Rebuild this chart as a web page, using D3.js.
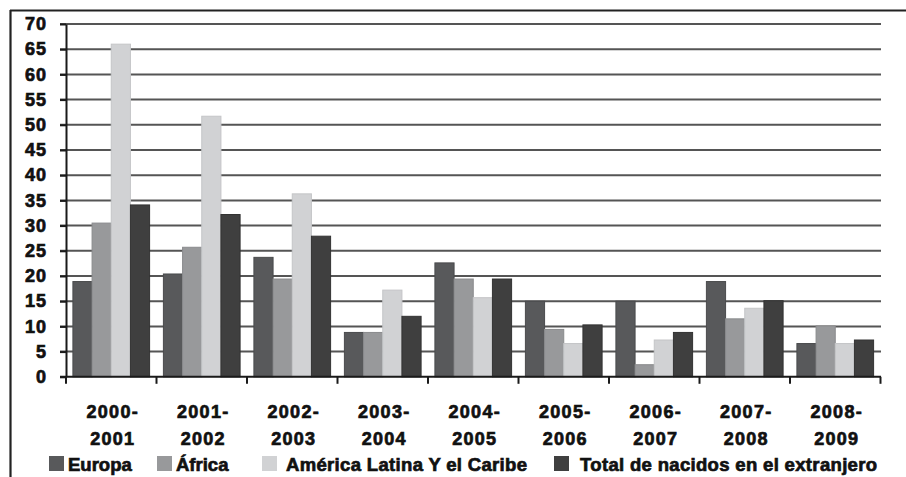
<!DOCTYPE html>
<html>
<head>
<meta charset="utf-8">
<script src="https://cdn.jsdelivr.net/npm/d3@7/dist/d3.min.js"></script>
<style>
  html, body { margin: 0; padding: 0; background: #fff; }
  svg { display: block; }
  text { font-family: "Liberation Sans", Arial, sans-serif; font-weight: bold; fill: #111; stroke: #111; stroke-width: 0.7px; }
</style>
</head>
<body>
<svg id="chart" width="906" height="477"></svg>
<script>
// ---- Data ----
const periods = [
  ["2000-", "2001"], ["2001-", "2002"], ["2002-", "2003"], ["2003-", "2004"],
  ["2004-", "2005"], ["2005-", "2006"], ["2006-", "2007"], ["2007-", "2008"], ["2008-", "2009"]
];
const seriesNames = ["Europa", "África", "América Latina Y el Caribe", "Total de nacidos en el extranjero"];
const europa  = [18.9, 20.4, 23.7, 8.8, 22.6, 15.0, 15.0, 18.9, 6.6];
const africa  = [30.5, 25.7, 19.4, 8.8, 19.4, 9.4, 2.4, 11.5, 10.1];
const alc     = [66.0, 51.7, 36.3, 17.2, 15.7, 6.6, 7.3, 13.6, 6.6];
const total   = [34.1, 32.2, 27.9, 12.0, 19.4, 10.3, 8.8, 15.1, 7.3];
const yTicks  = [0, 5, 10, 15, 20, 25, 30, 35, 40, 45, 50, 55, 60, 65, 70];

// ---- Styles ----
const colors = ["#58595b", "#98999b", "#d1d2d4", "#3f3f3f"];
const strokes = ["#4a4b4d", "#8a8b8d", "#c4c5c7", "#333333"];

const svg = d3.select("#chart");
const values = [europa, africa, alc, total];
const cats = periods.map(p => p.join(""));

const x0 = d3.scaleBand().domain(cats).range([66, 880.5]).paddingInner(0).paddingOuter(0);
const x1 = d3.scaleBand().domain(seriesNames).range([0, x0.bandwidth()]).paddingInner(0).paddingOuter(0.36);
const y = d3.scaleLinear().domain([0, 70]).range([376.8, 24]);

// frame
svg.append("line").attr("x1", 10).attr("x2", 906).attr("y1", 10.5).attr("y2", 10.5)
  .attr("stroke", "#222").attr("stroke-width", 2.2);
svg.append("line").attr("x1", 10.5).attr("x2", 10.5).attr("y1", 10).attr("y2", 477)
  .attr("stroke", "#222").attr("stroke-width", 2.2);

// gridlines
svg.append("g").selectAll("line").data(yTicks.filter(t => t > 0)).join("line")
  .attr("x1", 60).attr("x2", 881).attr("y1", d => y(d)).attr("y2", d => y(d))
  .attr("stroke", "#555").attr("stroke-width", 2);

// bars
const groups = svg.append("g").selectAll("g").data(cats).join("g")
  .attr("transform", d => `translate(${x0(d)},0)`);
groups.selectAll("rect").data((d, i) => seriesNames.map((s, j) => ({s, j, v: values[j][i]}))).join("rect")
  .attr("x", d => x1(d.s))
  .attr("width", x1.bandwidth())
  .attr("y", d => y(d.v))
  .attr("height", d => y(0) - y(d.v))
  .attr("fill", d => colors[d.j])
  .attr("stroke", d => strokes[d.j])
  .attr("stroke-width", 1);

// y axis
const yAxis = d3.axisLeft(y).tickValues(yTicks).tickSize(6).tickPadding(13).tickSizeOuter(0);
const gy = svg.append("g").attr("transform", "translate(66,0)").call(yAxis);
gy.select(".domain").attr("stroke", "#1a1a1a").attr("stroke-width", 2);
gy.selectAll(".tick line").attr("stroke", "#1a1a1a").attr("stroke-width", 2);
gy.selectAll(".tick text").attr("font-size", 18).attr("fill", "#111").attr("letter-spacing", 1)
  .style("font-family", '"Liberation Sans", Arial, sans-serif').style("font-weight", "bold");

// x axis
const gx = svg.append("g").attr("transform", `translate(0,${y(0)})`);
gx.append("line").attr("x1", 60).attr("x2", 881).attr("y1", 0).attr("y2", 0)
  .attr("stroke", "#1a1a1a").attr("stroke-width", 2);
const bounds = cats.map(c => x0(c)).concat([x0(cats[cats.length - 1]) + x0.bandwidth()]);
gx.selectAll("line.tk").data(bounds).join("line").attr("class", "tk")
  .attr("x1", d => d).attr("x2", d => d).attr("y1", 0).attr("y2", 7)
  .attr("stroke", "#1a1a1a").attr("stroke-width", 2);

const lab = svg.append("g").selectAll("text").data(periods).join("text")
  .attr("text-anchor", "middle").attr("font-size", 18).attr("letter-spacing", 1.3);
lab.append("tspan").attr("x", (d, i) => x0(cats[i]) + x0.bandwidth() / 2 + 1.5).attr("y", 418).text(d => d[0]);
lab.append("tspan").attr("x", (d, i) => x0(cats[i]) + x0.bandwidth() / 2 + 1.5).attr("y", 445).text(d => d[1]);

// legend
const legendX = [49, 157, 262, 554];
const lg = svg.append("g").selectAll("g").data(seriesNames).join("g")
  .attr("transform", (d, i) => `translate(${legendX[i]},456)`);
lg.append("rect").attr("width", 15).attr("height", 15).attr("fill", (d, i) => colors[i]);
lg.append("text").attr("x", (d, i) => i === 2 ? 24 : (i === 3 ? 26 : 19)).attr("y", 15).attr("font-size", 18.5)
  .attr("letter-spacing", (d, i) => i >= 2 ? 0.33 : 0).text(d => d);
</script>
</body>
</html>
